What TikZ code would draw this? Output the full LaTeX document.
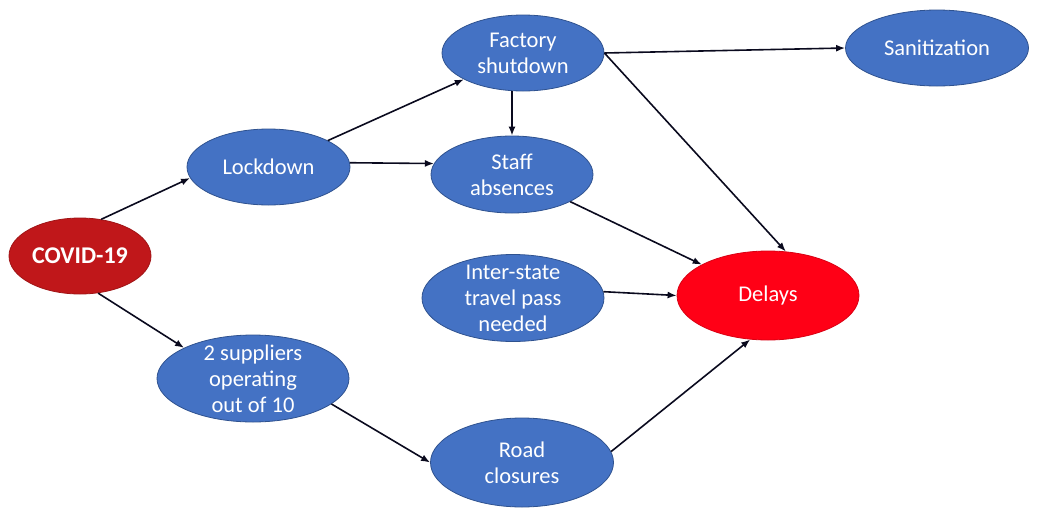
\documentclass[tikz,border=0pt]{standalone}
\usepackage{fontspec}
\setmainfont{Carlito}
\usetikzlibrary{shapes.geometric,arrows.meta}
\definecolor{nodeblue}{HTML}{4472C4}
\definecolor{nodeedge}{HTML}{2F528F}
\definecolor{covidred}{HTML}{C0171A}
\definecolor{covidedge}{HTML}{A01416}
\definecolor{delayred}{HTML}{FF0016}
\definecolor{arrowc}{HTML}{0A0A1E}
\begin{document}
\begin{tikzpicture}[x=1pt,y=-1pt,
  bub/.style={ellipse, draw=nodeedge, line width=0.8pt, fill=nodeblue, inner sep=0pt},
  txt/.style={text=white, align=center, inner sep=0pt, font=\fontsize{22.5}{26}\selectfont},
  arr/.style={-{Latex[length=9pt,width=7pt]}, line width=1.6pt, draw=arrowc}]
\useasboundingbox (0,0) rectangle (1037,520);
\node[bub, fill=covidred, draw=covidedge, minimum width=142pt, minimum height=76pt,
  label={[txt, font=\fontsize{24}{28}\selectfont\bfseries]center:COVID-19}] (covid) at (80,256) {};
\node[bub, minimum width=163pt, minimum height=76pt,
  label={[txt]center:Lockdown}] (lock) at (268.5,167) {};
\node[bub, minimum width=162pt, minimum height=76pt,
  label={[txt]center:{Factory\\shutdown}}] (fac) at (523,53) {};
\node[bub, minimum width=162pt, minimum height=77pt,
  label={[txt]center:{Staff\\absences}}] (staff) at (512,174.5) {};
\node[bub, minimum width=183pt, minimum height=76pt,
  label={[txt]center:Sanitization}] (san) at (937,48) {};
\node[bub, minimum width=182pt, minimum height=87pt,
  label={[txt]center:{Inter-state\\travel pass\\needed}}] (inter) at (513,298) {};
\node[bub, fill=delayred, draw=delayred!85!black, minimum width=182pt, minimum height=89pt,
  label={[txt]center:Delays}] (del) at (768,295.5) {};
\node[bub, minimum width=192pt, minimum height=87pt,
  label={[txt]center:{2 suppliers\\operating\\out of 10}}] (sup) at (253,378.5) {};
\node[bub, minimum width=183pt, minimum height=89pt,
  label={[txt]center:{Road\\closures}}] (road) at (522,462.5) {};

\draw[arr] (covid.60) -- (lock.188);
\draw[arr] (covid.-64) -- (sup.156);
\draw[arr] (lock.24) -- (fac.204);
\draw[arr] (lock.3) -- (staff.172);
\draw[arr] (staff.north |- fac.south) -- (staff.north);
\draw[arr] (fac.east) -- (san.west);
\draw[arr] (fac.east) -- (del.68);
\draw[arr] (staff.-25) -- (del.155);
\draw[arr] (inter.4) -- (del.west);
\draw[arr] (sup.-18) -- (road.west);
\draw[arr] (road.7) -- (del.248);
\end{tikzpicture}
\end{document}
